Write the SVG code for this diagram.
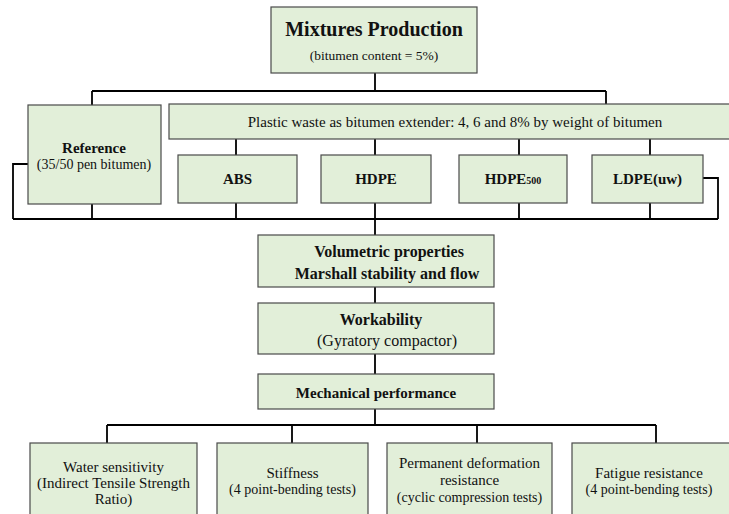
<svg xmlns="http://www.w3.org/2000/svg" width="729" height="514" viewBox="0 0 729 514">
<style>
.box{fill:#e2efd9;stroke:#4a4a4a;stroke-width:1.2}
.t{font-family:"Liberation Serif","Times New Roman",serif;fill:#111;text-anchor:middle}
.b{font-weight:bold}
.c{stroke:#000;stroke-width:1.8;fill:none}
</style>
<rect width="729" height="514" fill="#fff"/>
<g id="connectors">
<path class="c" d="M375,73V91M92,91H606M92,91V105M606,91V104"/>
<path class="c" d="M236,139V155M375,139V155M519,139V155M650,139V155"/>
<path class="c" d="M92,204V219M236,203V219M519,203V219M650,203V219M13,219H718M28,164H13V219M703,178H718V219"/>
<path class="c" d="M375,203V235M375,287V303M375,354V374M375,409V425M107,425H656M107,425V443M292,425V443M477,425V443M656,425V443"/>
</g>
<g id="mixtures">
<rect class="box" x="271" y="7" width="206" height="66"/>
<text class="t b" x="374" y="36" font-size="20">Mixtures Production</text>
<text class="t" x="374" y="60" font-size="13.5">(bitumen content = 5%)</text>
</g>
<g id="reference">
<rect class="box" x="28" y="105" width="133" height="99"/>
<text class="t b" x="94" y="153" font-size="15">Reference</text>
<text class="t" x="94" y="169" font-size="14">(35/50 pen bitumen)</text>
</g>
<g id="plastic">
<rect class="box" x="169" y="104" width="575" height="35"/>
<text class="t" x="455" y="127" font-size="15">Plastic waste as bitumen extender: 4, 6 and 8% by weight of bitumen</text>
</g>
<g id="abs">
<rect class="box" x="178" y="155" width="119" height="48"/>
<text class="t b" x="237.5" y="184" font-size="15">ABS</text>
</g>
<g id="hdpe">
<rect class="box" x="321" y="155" width="110" height="48"/>
<text class="t b" x="376" y="184" font-size="15">HDPE</text>
</g>
<g id="hdpe500">
<rect class="box" x="459" y="155" width="108" height="48"/>
<text class="t b" x="513" y="184" font-size="15">HDPE<tspan font-size="10">500</tspan></text>
</g>
<g id="ldpe">
<rect class="box" x="592" y="155" width="111" height="48"/>
<text class="t b" x="647.5" y="184" font-size="15">LDPE(uw)</text>
</g>
<g id="volumetric">
<rect class="box" x="258" y="235" width="236" height="52"/>
<text class="t b" x="389" y="257" font-size="16">Volumetric properties</text>
<text class="t b" x="387" y="279" font-size="16">Marshall stability and flow</text>
</g>
<g id="workability">
<rect class="box" x="258" y="303" width="236" height="51"/>
<text class="t b" x="381" y="325" font-size="16">Workability</text>
<text class="t" x="387" y="346" font-size="16">(Gyratory compactor)</text>
</g>
<g id="mechanical">
<rect class="box" x="258" y="374" width="236" height="35"/>
<text class="t b" x="376" y="398" font-size="15">Mechanical performance</text>
</g>
<g id="water">
<rect class="box" x="30" y="443" width="167" height="80"/>
<text class="t" x="113.5" y="472" font-size="15">Water sensitivity</text>
<text class="t" x="113.5" y="488" font-size="15">(Indirect Tensile Strength</text>
<text class="t" x="113.5" y="504" font-size="15">Ratio)</text>
</g>
<g id="stiffness">
<rect class="box" x="217" y="443" width="151" height="80"/>
<text class="t" x="292.5" y="478" font-size="15">Stiffness</text>
<text class="t" x="292.5" y="494" font-size="14">(4 point-bending tests)</text>
</g>
<g id="permanent">
<rect class="box" x="387" y="443" width="165" height="80"/>
<text class="t" x="469.5" y="468" font-size="15">Permanent deformation</text>
<text class="t" x="469.5" y="485" font-size="15">resistance</text>
<text class="t" x="469.5" y="502" font-size="14">(cyclic compression tests)</text>
</g>
<g id="fatigue">
<rect class="box" x="572" y="443" width="160" height="80"/>
<text class="t" x="649" y="478" font-size="15">Fatigue resistance</text>
<text class="t" x="649" y="494" font-size="14">(4 point-bending tests)</text>
</g>
</svg>
